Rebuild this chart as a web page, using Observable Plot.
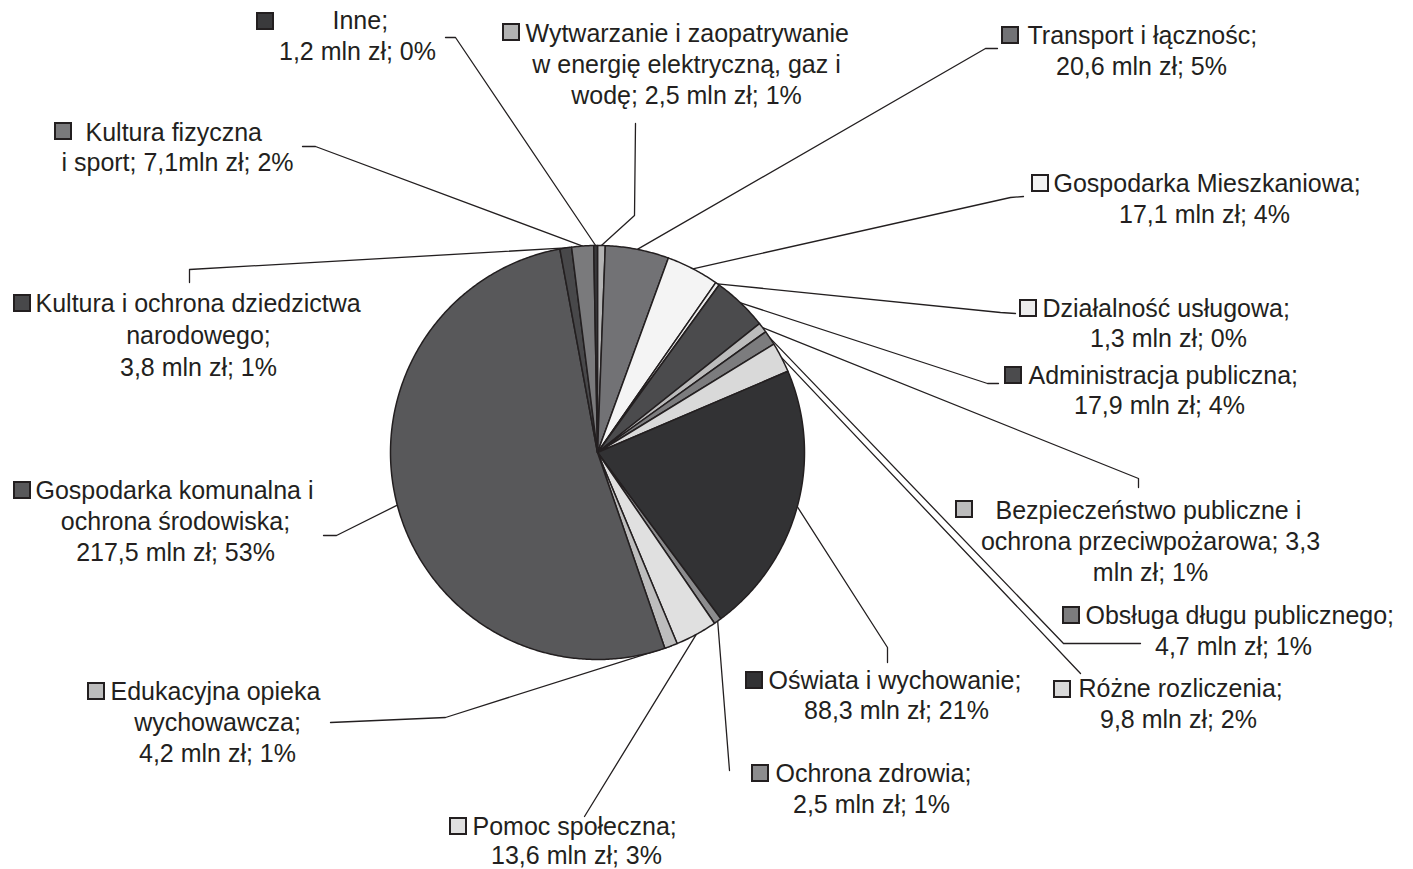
<!DOCTYPE html>
<html>
<head>
<meta charset="utf-8">
<script src="https://cdn.jsdelivr.net/npm/d3@7"></script>
<script src="https://cdn.jsdelivr.net/npm/@observablehq/plot@0.6"></script>
<style>
  html, body { margin: 0; padding: 0; background: #ffffff; }
  #chart svg { display: block; }
</style>
</head>
<body>
<div id="chart"></div>
<script>
// ---------- DATA ----------
const categories = [
  "Wytwarzanie i zaopatrywanie w energię elektryczną, gaz i wodę",
  "Transport i łącznośc",
  "Gospodarka Mieszkaniowa",
  "Działalność usługowa",
  "Administracja publiczna",
  "Bezpieczeństwo publiczne i ochrona przeciwpożarowa",
  "Obsługa długu publicznego",
  "Różne rozliczenia",
  "Oświata i wychowanie",
  "Ochrona zdrowia",
  "Pomoc społeczna",
  "Edukacyjna opieka wychowawcza",
  "Gospodarka komunalna i ochrona środowiska",
  "Kultura i ochrona dziedzictwa narodowego",
  "Kultura fizyczna i sport",
  "Inne"
];
const values = [2.5, 20.6, 17.1, 1.3, 17.9, 3.3, 4.7, 9.8, 88.3, 2.5, 13.6, 4.2, 217.5, 3.8, 7.1, 1.2];
const labelLines = [
  ["Wytwarzanie i zaopatrywanie", "w energię elektryczną, gaz i", "wodę; 2,5 mln zł; 1%"],
  ["Transport i łącznośc;", "20,6 mln zł; 5%"],
  ["Gospodarka Mieszkaniowa;", "17,1 mln zł; 4%"],
  ["Działalność usługowa;", "1,3 mln zł; 0%"],
  ["Administracja publiczna;", "17,9 mln zł; 4%"],
  ["Bezpieczeństwo publiczne i", "ochrona przeciwpożarowa; 3,3", "mln zł; 1%"],
  ["Obsługa długu publicznego;", "4,7 mln zł; 1%"],
  ["Różne rozliczenia;", "9,8 mln zł; 2%"],
  ["Oświata i wychowanie;", "88,3 mln zł; 21%"],
  ["Ochrona zdrowia;", "2,5 mln zł; 1%"],
  ["Pomoc społeczna;", "13,6 mln zł; 3%"],
  ["Edukacyjna opieka", "wychowawcza;", "4,2 mln zł; 1%"],
  ["Gospodarka komunalna i", "ochrona środowiska;", "217,5 mln zł; 53%"],
  ["Kultura i ochrona dziedzictwa", "narodowego;", "3,8 mln zł; 1%"],
  ["Kultura fizyczna", "i sport; 7,1mln zł; 2%"],
  ["Inne;", "1,2 mln zł; 0%"]
];

// ---------- STYLE ----------
const colors = ["#b3b3b3", "#727275", "#f4f4f4", "#ececec", "#4b4b4d", "#bcbcbc", "#7c7c7e", "#d9d9d9",
                "#323234", "#8c8c8e", "#e0e0e0", "#bdbdbd", "#58585a", "#48484a", "#7a7a7c", "#3a3a3c"];
const ink = "#231f20";
const font = "'Liberation Sans', Arial, sans-serif";
const fontSize = 25;
const lineGap = 31;

// ---------- LAYOUT (pixel space) ----------
const W = 1413, H = 869;
const pieCx = 597, pieCy = 452, pieR = 207;
// m: marker centre, lx: start of first line, y0: first line centre, cx: centre of following lines,
// leader: elbow points from label side towards the pie
const layout = [
  {m: [511, 32],  lx: 525,  y0: 33,  cx: 686,  leader: [[635, 123], [634, 215]]},
  {m: [1010, 35], lx: 1027, y0: 35,  cx: 1141, leader: [[997, 48], [985, 48]]},
  {m: [1040, 183],lx: 1053, y0: 183, cx: 1204, leader: [[1023, 196], [1010, 197]]},
  {m: [1028, 308],lx: 1042, y0: 308, cx: 1168, leader: [[1015, 313], [1000, 312]]},
  {m: [1013, 375],lx: 1028, y0: 375, cx: 1159, leader: [[998, 383], [987, 383]]},
  {m: [964, 509], lx: 995,  y0: 510, cx: 1150, leader: [[1138, 487], [1138, 478]]},
  {m: [1071, 615],lx: 1085, y0: 615, cx: 1233, leader: [[1140, 643], [1063, 643]]},
  {m: [1062, 689],lx: 1078, y0: 688, cx: 1178, leader: [[1080, 673]]},
  {m: [754, 680], lx: 768,  y0: 680, cx: 896,  leader: [[887, 662], [887, 647]]},
  {m: [760, 773], lx: 775,  y0: 773, cx: 871,  leader: [[729, 770]]},
  {m: [458, 826], lx: 472,  y0: 826, cx: 576,  leader: [[584, 816]]},
  {m: [96, 691],  lx: 110,  y0: 691, cx: 217,  leader: [[330, 722], [445, 717]]},
  {m: [22, 490],  lx: 35,   y0: 490, cx: 175,  leader: [[323, 535], [336, 535]]},
  {m: [22, 303],  lx: 35,   y0: 303, cx: 198,  leader: [[189, 282], [189, 269]]},
  {m: [63, 131],  lx: 85,   y0: 132, cx: 177,  leader: [[302, 146], [315, 146]]},
  {m: [265, 21],  lx: 332,  y0: 20,  cx: 357,  leader: [[445, 37], [455, 37]]}
];
const lineGaps = [31, 31, 31, 30, 30, 31, 31, 31, 30, 31, 29, 31, 31, 32, 30, 31];
const markerSize = 16;

// ---------- DERIVED ----------
const arcs = d3.pie().sort(null).value(d => d)(values);
const polar = (a, r) => [pieCx + r * Math.sin(a), pieCy - r * Math.cos(a)];

const slicePts = [];
arcs.forEach((a, i) => {
  const n = Math.max(2, Math.ceil((a.endAngle - a.startAngle) / (Math.PI / 360)));
  slicePts.push({name: categories[i], color: colors[i], x: pieCx, y: pieCy});
  for (let k = 0; k <= n; k++) {
    const ang = a.startAngle + (a.endAngle - a.startAngle) * k / n;
    const [x, y] = polar(ang, pieR);
    slicePts.push({name: categories[i], color: colors[i], x, y});
  }
});

const leaderPts = [];
arcs.forEach((a, i) => {
  const mid = (a.startAngle + a.endAngle) / 2;
  layout[i].leader.forEach(([x, y]) => leaderPts.push({name: categories[i], x, y}));
  const [x, y] = polar(mid, pieR);
  leaderPts.push({name: categories[i], x, y});
});

const firstLines = [], otherLines = [], markers = [];
labelLines.forEach((lines, i) => {
  const L = layout[i];
  firstLines.push({x: L.lx, y: L.y0, text: lines[0]});
  lines.slice(1).forEach((t, k) => otherLines.push({x: L.cx, y: L.y0 + lineGaps[i] * (k + 1), text: t}));
  markers.push({x1: L.m[0] - markerSize / 2, x2: L.m[0] + markerSize / 2,
                y1: L.m[1] - markerSize / 2, y2: L.m[1] + markerSize / 2, color: colors[i]});
});

const chart = Plot.plot({
  width: W, height: H,
  margin: 0,
  x: {domain: [0, W], range: [0, W], axis: null},
  y: {domain: [0, H], range: [0, H], axis: null},
  color: {type: "identity"},
  style: {background: "#ffffff", fontFamily: font},
  marks: [
    Plot.line(leaderPts, {x: "x", y: "y", z: "name", stroke: ink, strokeWidth: 1.3}),
    Plot.line(slicePts, {x: "x", y: "y", z: "name", fill: "color", stroke: ink, strokeWidth: 1.5,
                         curve: "linear-closed", strokeLinejoin: "round"}),
    Plot.rect(markers, {x1: "x1", x2: "x2", y1: "y1", y2: "y2", fill: "color", stroke: ink, strokeWidth: 2}),
    Plot.text(firstLines, {x: "x", y: "y", text: "text", textAnchor: "start", fontSize, fontFamily: font, fill: ink}),
    Plot.text(otherLines, {x: "x", y: "y", text: "text", textAnchor: "middle", fontSize, fontFamily: font, fill: ink})
  ]
});
document.getElementById("chart").appendChild(chart);
</script>
</body>
</html>
